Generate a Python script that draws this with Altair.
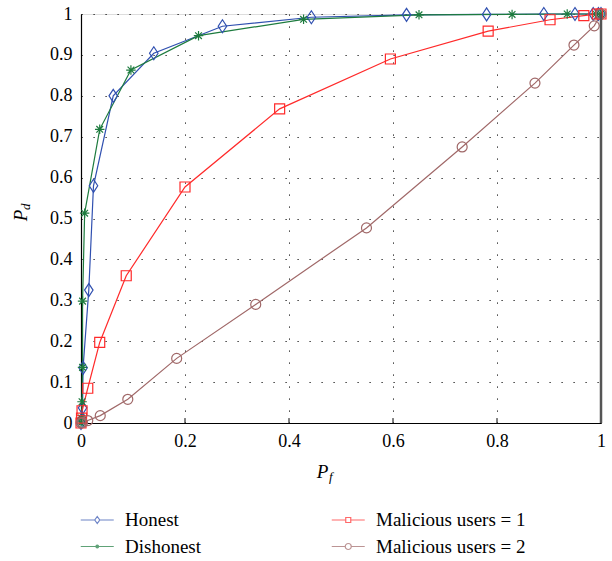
import altair as alt
import pandas as pd

series_names = ["Honest", "Dishonest", "Malicious users = 1", "Malicious users = 2"]
series_colors = ["#3050b0", "#1d7b3e", "#ff2a2a", "#a06868"]

honest_pf = [0.0, 0.002, 0.003, 0.004, 0.015, 0.024, 0.062, 0.14, 0.272, 0.443, 0.626, 0.78, 0.89, 0.95, 0.985, 0.995, 1.0]
honest_pd = [0.0, 0.01, 0.037, 0.135, 0.325, 0.58, 0.80, 0.904, 0.97, 0.992, 0.998, 0.999, 1.0, 1.0, 1.0, 1.0, 1.0]

dishonest_pf = [0.0, 0.001, 0.002, 0.003, 0.003, 0.007, 0.036, 0.096, 0.226, 0.428, 0.65, 0.829, 0.935, 0.99, 1.0]
dishonest_pd = [0.0, 0.012, 0.052, 0.136, 0.298, 0.513, 0.718, 0.863, 0.947, 0.987, 0.998, 0.999, 1.0, 1.0, 1.0]

mal1_pf = [0.0, 0.001, 0.002, 0.013, 0.036, 0.087, 0.2, 0.382, 0.595, 0.783, 0.902, 0.967, 0.993, 1.0]
mal1_pd = [0.0, 0.012, 0.03, 0.085, 0.197, 0.36, 0.577, 0.768, 0.89, 0.958, 0.986, 0.996, 1.0, 1.0]

mal2_pf = [0.0, 0.003, 0.013, 0.037, 0.09, 0.184, 0.336, 0.549, 0.733, 0.873, 0.948, 0.987, 1.0]
mal2_pd = [0.0, 0.001, 0.006, 0.018, 0.058, 0.158, 0.29, 0.477, 0.675, 0.831, 0.924, 0.971, 1.0]

x_ticks = [0, 0.2, 0.4, 0.6, 0.8, 1]
y_ticks = [0, 0.1, 0.2, 0.3, 0.4, 0.5, 0.6, 0.7, 0.8, 0.9, 1]
x_inner_ticks = [0.2, 0.4, 0.6, 0.8]

rows = []
for name, pfs, pds in zip(series_names,
                          [honest_pf, dishonest_pf, mal1_pf, mal2_pf],
                          [honest_pd, dishonest_pd, mal1_pd, mal2_pd]):
    for i, (a, b) in enumerate(zip(pfs, pds)):
        rows.append({"series": name, "pf": a, "pd": b, "idx": i})
df = pd.DataFrame(rows)

FONT = "Liberation Serif"

# plot markers (size 100 -> unit = 5px)
marker_paths = [
    "M0,-1.3L0.85,0L0,1.3L-0.85,0Z",
    "M-0.95,0L0.95,0M0,-0.95L0,0.95M-0.67,-0.67L0.67,0.67M-0.67,0.67L0.67,-0.67",
    "M-1,-1L1,-1L1,1L-1,1Z",
    "circle",
]

# legend symbols (line + small marker)
leg_paths = [
    "M-1,0L0.366,0M0.854,0L2.22,0M0.61,-0.34L0.854,0L0.61,0.34L0.366,0Z",
    "M-1,0L2.22,0M0.61,-0.2L0.61,0.2M0.47,-0.14L0.75,0.14M0.47,0.14L0.75,-0.14M0.45,0L0.77,0",
    "M-1,0L0.366,0M0.854,0L2.22,0M0.366,-0.244L0.854,-0.244L0.854,0.244L0.366,0.244Z",
    "M-1,0L0.317,0M0.903,0L2.22,0M0.903,0A0.293,0.293,0,1,1,0.317,0A0.293,0.293,0,1,1,0.903,0Z",
]

xs = alt.Scale(domain=[0, 1], nice=False, zero=False)
ys = alt.Scale(domain=[0, 1], nice=False, zero=False)

x_enc = alt.X("pf:Q", scale=xs, axis=alt.Axis(
    values=x_ticks, format="~g", title=None, grid=True, gridDash=[1.2, 10.8],
    gridColor="#111", gridWidth=1, ticks=False, domainColor="black", domainWidth=1.2,
    labelFont=FONT, labelFontSize=18, labelColor="black", labelPadding=9, labelFlush=False))
y_enc = alt.Y("pd:Q", scale=ys, axis=alt.Axis(
    values=y_ticks, format="~g", title=None, grid=True, gridDash=[1.2, 10.8],
    gridColor="#111", gridWidth=1, ticks=False, domainColor="black", domainWidth=1.2,
    labelFont=FONT, labelFontSize=18, labelColor="black", labelPadding=9, labelFlush=False))

base = alt.Chart(df)

lines = base.mark_line(strokeWidth=1.2, clip=False).encode(
    x=x_enc, y=y_enc,
    color=alt.Color("series:N", scale=alt.Scale(domain=series_names, range=series_colors), legend=None),
    order=alt.Order("idx:Q"),
)

points = base.mark_point(filled=False, strokeWidth=1.2, size=100, opacity=1, clip=False).encode(
    x=alt.X("pf:Q", scale=xs), y=alt.Y("pd:Q", scale=ys),
    color=alt.Color("series:N", scale=alt.Scale(domain=series_names, range=series_colors), legend=None),
    shape=alt.Shape("series:N", scale=alt.Scale(domain=series_names, range=marker_paths), legend=None),
)

legend_props = dict(
    title=None, orient="none", legendX=-1, legendY=495, columns=2, columnPadding=128,
    rowPadding=5.5, symbolSize=420, symbolStrokeWidth=1.2, labelFont=FONT,
    labelFontSize=19, labelOffset=23, labelColor="black", labelLimit=300, padding=0,
)
legend_layer = base.transform_filter("false").mark_point(filled=False, size=420, strokeWidth=1.2).encode(
    x=alt.X("pf:Q", scale=xs), y=alt.Y("pd:Q", scale=ys),
    color=alt.Color("series:N", scale=alt.Scale(domain=series_names, range=series_colors),
                    legend=alt.Legend(**legend_props)),
    shape=alt.Shape("series:N", scale=alt.Scale(domain=series_names, range=leg_paths),
                    legend=alt.Legend(**legend_props)),
)

tick_df = pd.DataFrame({"t": x_inner_ticks})
inner_ticks = alt.Chart(tick_df).mark_rule(color="black", strokeWidth=1).encode(
    x=alt.X("t:Q", scale=xs), y=alt.datum(0), y2=alt.datum(0.012))

right_border = alt.Chart(pd.DataFrame({"t": [1]})).mark_rule(color="#555", strokeWidth=2.5).encode(
    x=alt.X("t:Q", scale=xs), y=alt.datum(0), y2=alt.datum(1))

xt_main = alt.Chart(pd.DataFrame({"a": [0]})).mark_text(
    text="P", font=FONT, fontStyle="italic", fontSize=19, align="center", baseline="alphabetic", color="black"
).encode(x=alt.value(241.5), y=alt.value(464))
xt_sub = alt.Chart(pd.DataFrame({"a": [0]})).mark_text(
    text="f", font=FONT, fontStyle="italic", fontSize=13, align="left", baseline="alphabetic", color="black"
).encode(x=alt.value(248), y=alt.value(467))
yt_main = alt.Chart(pd.DataFrame({"a": [0]})).mark_text(
    text="P", font=FONT, fontStyle="italic", fontSize=19, align="center", baseline="alphabetic", angle=270, color="black"
).encode(x=alt.value(-54), y=alt.value(201.5))
yt_sub = alt.Chart(pd.DataFrame({"a": [0]})).mark_text(
    text="d", font=FONT, fontStyle="italic", fontSize=13, align="left", baseline="alphabetic", angle=270, color="black"
).encode(x=alt.value(-51), y=alt.value(196))

chart = alt.layer(
    lines, points, legend_layer, inner_ticks, right_border, xt_main, xt_sub, yt_main, yt_sub
).resolve_scale(
    color="independent", shape="independent"
).resolve_legend(
    color="independent", shape="independent"
).properties(
    width=520, height=409,
    autosize=alt.AutoSizeParams(type="none"),
    padding={"left": 81, "top": 14, "right": 11, "bottom": 138},
).configure_view(
    stroke="black", strokeWidth=1.2
).configure(background="white")

chart.save("out.html", embed_options={"renderer": "svg", "actions": False})
